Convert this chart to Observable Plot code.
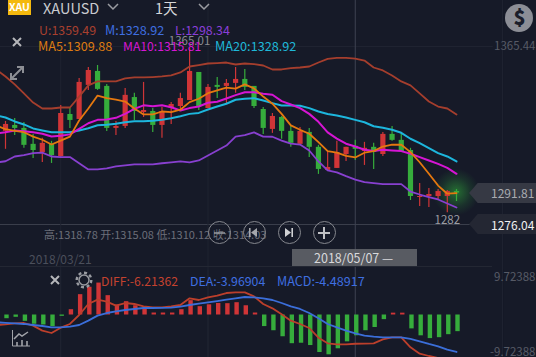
<!DOCTYPE html>
<html><head><meta charset="utf-8">
<script src="https://cdn.jsdelivr.net/npm/d3@7"></script>
<script src="https://cdn.jsdelivr.net/npm/@observablehq/plot@0.6"></script>
<style>
html,body{margin:0;padding:0;background:#161a28}
#app{position:relative;width:536px;height:357px;overflow:hidden;background:#161a28;font-family:"Noto Sans CJK SC","Noto Sans",sans-serif}
#app>svg.ic{position:absolute;left:0;top:0;pointer-events:none}
.t{position:absolute;white-space:nowrap;line-height:1;transform:translateY(-50%)}
.tag{position:absolute;left:469px;width:67px;height:20px;clip-path:polygon(0 50%,13% 0,100% 0,100% 100%,13% 100%)}
#glow{position:absolute;left:433px;top:169px;width:46px;height:46px;background:radial-gradient(circle,rgba(50,180,60,.55) 0,rgba(40,125,55,.24) 45%,rgba(30,80,50,0) 72%)}
</style></head><body><div id="app"><div id="glow"></div></div>
<script>
// Candles, session index 0..49 (red = up, green = down)
const opens=[1322.8,1325.8,1324.3,1316.3,1312.2,1316.3,1310.2,1331.3,1328.8,1345.9,1352.9,1345.4,1324.3,1325.3,1339.8,1332.3,1332.8,1325.8,1334.3,1335.3,1338.3,1352.4,1334.3,1345.9,1345.4,1346.9,1348.9,1345.4,1333.8,1323.8,1329.8,1322.8,1316.3,1322.3,1314.8,1303.2,1304.2,1311.2,1315.3,1312.7,1314.8,1311.2,1321.3,1318.3,1313.2,1289.6,1290.1,1290.1,1290.1,1292.6];
const highs=[1327.8,1329.3,1327.3,1321.3,1319.3,1317.8,1335.8,1334.3,1349.4,1354.9,1355.9,1346.4,1327.8,1344.4,1341.9,1347.4,1334.3,1334.8,1337.3,1341.9,1365.01,1352.4,1346.4,1349.9,1348.9,1354.9,1353.9,1345.4,1334.8,1331.8,1330.3,1325.8,1324.8,1324.3,1315.8,1312.7,1317.8,1314.8,1318.3,1317.3,1316.8,1322.3,1325.3,1321.8,1314.3,1296.6,1294.1,1293.6,1293.1,1293.6];
const lows=[1313.8,1320.8,1314.3,1309.2,1307.2,1306.7,1309.7,1324.3,1328.8,1343.4,1343.4,1322.8,1320.8,1324.3,1328.3,1329.8,1322.3,1319.3,1326.3,1333.3,1338.3,1333.3,1334.3,1339.3,1336.8,1341.9,1343.4,1334.3,1321.3,1321.8,1318.8,1314.8,1315.8,1309.7,1301.2,1303.2,1304.2,1307.7,1308.2,1305.7,1303.7,1310.2,1317.8,1312.7,1288.1,1285.1,1284.6,1288.1,1282,1287.6];
const closes=[1326.3,1324.3,1315.8,1313.2,1316.8,1310.7,1331.8,1328.3,1347.4,1353.4,1343.9,1324.3,1325.3,1340.9,1332.8,1333.3,1325.8,1332.8,1336.3,1339.3,1352.9,1335.3,1344.9,1344.9,1346.9,1348.9,1344.9,1335.3,1324.3,1330.3,1322.8,1316.8,1322.8,1314.8,1303.7,1304.7,1312.2,1314.8,1313.8,1314.3,1312.2,1321.3,1318.3,1312.7,1290.1,1290.1,1291.1,1292.6,1292.6,1291.81];

// Indicator lines, session index -1..49
const upper=[1353.9,1350.4,1346.4,1341.9,1337.3,1334.3,1334.3,1334.8,1334.8,1340.3,1345.9,1347.9,1347.9,1347.9,1349.4,1349.9,1349.9,1350.1,1350.4,1350.9,1352.4,1355.4,1356.1,1356.9,1357.1,1357.4,1356.4,1356.9,1356.6,1355.9,1353.9,1353.9,1354.6,1354.9,1355.4,1357.4,1359.2,1359.7,1359.7,1359.4,1358.4,1354.9,1353.4,1350.9,1347.9,1345.9,1341.9,1337.8,1335.3,1334.3,1331.3];
const lower=[1307.2,1307.8,1310.2,1310.9,1311.9,1312.1,1310.2,1309.9,1309.9,1306.8,1303.7,1303.7,1304.2,1305.2,1305.7,1306.2,1306.2,1306.2,1306.8,1307.2,1307.7,1307.2,1308.2,1310.7,1313.2,1315.7,1320.2,1320.9,1322.3,1320.2,1320.1,1318.2,1316.7,1316.2,1313.2,1307.7,1303.2,1302.2,1300.3,1298.6,1297.3,1296.8,1296.3,1296.3,1296.3,1292.6,1291.1,1289.8,1288.6,1286.6,1284.6];
const ma20=[1330.8,1329.8,1327.8,1326.3,1324.3,1323.3,1322.4,1322.4,1322.4,1323.3,1324.4,1325.9,1326.1,1326.6,1327.4,1327.9,1327.9,1328.1,1328.6,1329.4,1330.4,1331.6,1332.1,1333.8,1335.3,1336.7,1338.7,1339.2,1339.5,1338.3,1337.0,1335.8,1335.8,1335.7,1334.5,1332.8,1331.5,1330.8,1329.8,1328.6,1327.4,1325.4,1324.6,1323.6,1322.1,1319.1,1316.9,1314.4,1311.9,1310.2,1307.7];
const ma10=[1321.7,1322.4,1323.3,1322.9,1322.4,1321.6,1320.2,1320.6,1321.3,1324.1,1326.9,1328.6,1328.8,1329.6,1331.6,1334.1,1335.9,1335.4,1335.9,1334.9,1333.3,1334.5,1335.3,1337.2,1337.7,1339.3,1341.0,1342.5,1342.5,1341.7,1341.2,1338.0,1336.3,1334.5,1331.6,1327.6,1322.3,1319.2,1316.6,1315.2,1313.6,1312.9,1313.6,1313.2,1312.9,1311.6,1309.9,1308.2,1306.5,1304.5,1301.5];
const ma5=[1325.8,1323.9,1323.1,1322.4,1320.2,1318.6,1316.2,1318.2,1320.2,1328.3,1334.3,1340.8,1339.5,1338.8,1337.8,1334.3,1331.3,1331.3,1332.8,1332.5,1333.7,1337.5,1339.2,1342.0,1343.4,1344.8,1344.3,1346.4,1344.4,1340.3,1336.7,1331.6,1325.8,1323.6,1321.6,1317.4,1312.9,1312.1,1310.5,1309.7,1312.1,1312.9,1315.2,1316.2,1316.1,1312.4,1307.3,1301.5,1295.6,1291.5,1291.8];

// MACD panel
const macdBars=[-0.8,-0.5,-1.37,-2.0,-2.16,-2.52,-0.29,1.15,4.4,6.0,6.9,4.18,2.16,2.88,2.0,1.5,0.43,0.43,0.43,1.15,3.1,1.8,2.2,2.5,2.45,2.66,2.0,0.43,-2.5,-3.4,-4.7,-6.2,-6.1,-6.6,-8.1,-8.6,-7.3,-5.8,-4.48917,-3.4,-2.7,-1.0,0.4,0.4,-3.0,-4.5,-5.1,-4.9,-4.25,-3.6];
const diff=[-2.16,-2.02,-1.80,-1.73,-2.30,-3.38,-3.89,-2.74,-1.94,0,2.38,3.31,2.88,2.02,2.59,2.38,1.87,1.66,1.66,1.87,2.16,3.60,3.24,3.82,4.18,4.75,4.90,4.90,4.03,2.38,1.44,0.14,-1.22,-1.94,-2.81,-4.90,-6.12,-6.34,-6.34,-6.21362,-6.19,-6.12,-5.26,-4.82,-4.82,-6.98,-8.35,-8.86,-9.29,-9.86,-10.37];
const dea=[-1.58,-1.69,-1.80,-1.94,-2.16,-2.38,-2.66,-2.66,-2.52,-2.16,-1.22,-0.14,0.43,0.79,1.08,1.30,1.51,1.51,1.55,1.58,1.80,2.16,2.45,2.74,3.02,3.31,3.60,3.89,3.82,3.60,3.24,2.59,1.87,1.30,0.43,-0.72,-1.94,-2.66,-3.38,-3.96904,-4.46,-4.68,-4.82,-4.82,-4.82,-5.18,-5.69,-6.26,-6.77,-7.49,-7.99];

// Axis values and grid sessions
const priceTicks=[1365.44];
const macdTop=[9.72388], macdBottom=[-9.72388];
const gridSessions=[6,22,54];
const crossSession=[38];
const highLabel=[{i:20,v:1365.01,s:"1365.01"}];
const lowLabel=[{i:48,v:1282,s:"1282"}];
const lastPrice=[1276.04];

const RED="#d03537",GREEN="#36ad3c",GRID="#1f2331",CROSS="#3f4351";
const FONT='"Noto Sans CJK SC","Noto Sans",sans-serif';
const xScale={axis:null,domain:[0,49],range:[5,456]};
const base={width:536,height:357,marginTop:0,marginRight:0,marginBottom:0,marginLeft:0,
  style:{background:"transparent",position:"absolute",left:"0",top:"0",fontFamily:FONT,fontSize:"11.5px",overflow:"hidden"}};

const candles=d3.range(50).map(i=>({i,o:opens[i],h:highs[i],l:lows[i],c:closes[i],col:closes[i]>=opens[i]?RED:GREEN}));
const linePts=a=>a.map((v,k)=>({i:k-1,v}));
const line=(a,stroke,w=1.8)=>Plot.line(linePts(a),{x:"i",y:"v",stroke,strokeWidth:w});

const priceChart=Plot.plot({...base,
  x:xScale,
  y:{axis:null,domain:[1276.04,1365.44],range:[224,46]},
  marks:[
    Plot.ruleY(priceTicks,{stroke:GRID,x1:-1,x2:53}),
    Plot.ruleY(lastPrice,{stroke:"#3a3e4b",x1:-1,x2:51}),
    Plot.ruleX(gridSessions,{stroke:GRID}),
    Plot.ruleX(crossSession,{stroke:CROSS}),
    Plot.ruleX(candles,{x:"i",y1:"l",y2:"h",stroke:"col",strokeWidth:1.2}),
    Plot.ruleX(candles,{x:"i",y1:"o",y2:"c",stroke:"col",strokeWidth:5.2}),
    line(upper,"#a53e2d"),
    line(lower,"#8840d0"),
    line(ma20,"#1db6dd",2),
    line(ma10,"#d615d4",2),
    line(ma5,"#e5780f",1.8),
    Plot.text(highLabel,{x:"i",y:"v",text:"s",dy:-6,fill:"#8a8c92",fontSize:11.5}),
    Plot.text(lowLabel,{x:"i",y:"v",text:"s",dy:8,fill:"#9a9ca3",fontSize:11.5}),
    Plot.axisY(priceTicks,{anchor:"right",tickSize:0,tickPadding:0,textAnchor:"end",dx:-1,tickFormat:d=>d.toFixed(2),fill:"#565a66",fontSize:11.5,label:null})
  ]});
document.getElementById("app").append(priceChart);

const barData=macdBars.map((v,i)=>({i,v,col:v>=0?RED:GREEN}));
const macdChart=Plot.plot({...base,
  x:xScale,
  y:{axis:null,domain:[-9.72388,9.72388],range:[359.5,269.5]},
  marks:[
    Plot.ruleX(gridSessions,{stroke:GRID,y1:9.72388,y2:-9.72388}),
    Plot.ruleX(barData,{x:"i",y1:0,y2:"v",stroke:"col",strokeWidth:4.4,dx:1}),
    line(diff,"#bc3f2b"),
    line(dea,"#3b6ed9"),
    Plot.axisY(macdTop,{anchor:"right",tickSize:0,tickPadding:0,textAnchor:"end",dy:7.5,dx:-1,tickFormat:d=>d.toFixed(5),fill:"#565a66",fontSize:11.5,label:null}),
    Plot.axisY(macdBottom,{anchor:"right",tickSize:0,tickPadding:0,textAnchor:"end",dy:-7.5,dx:-1,tickFormat:d=>d.toFixed(5),fill:"#565a66",fontSize:11.5,label:null})
  ]});
document.getElementById("app").append(macdChart);

// Page chrome (title row, legends, buttons)
const app=document.getElementById("app");
function T(s,x,y,color,size,extra=""){const d=document.createElement("div");d.className="t";d.textContent=s;d.style.cssText=`left:${x}px;top:${y}px;color:${color};font-size:${size}px;${extra}`;app.append(d);return d;}
function box(css){const d=document.createElement("div");d.style.cssText="position:absolute;"+css;app.append(d);return d;}

box("left:8px;top:0;width:23px;height:15px;background:#f4b90e");
T("XAU",9,7,"#fff",10.5,"font-weight:700");
T("XAUUSD",43,7.5,"#c9cbcf",14.5);
T("1天",155,7.5,"#d5d6d9",14.5);
T("U:1359.49",39,29.5,"#a8402f",12.4);
T("M:1328.92",105,29.5,"#3f6fe0",12.6);
T("L:1298.34",175,29.5,"#8a3fd8",12.4);
T("MA5:1309.88",38,45.5,"#dd7a12",12.7);
T("MA10:1315.81",123,45.5,"#d616d4",12.2);
T("MA20:1328.92",215,45.5,"#1fb8d8",12.7);
T("高:1318.78 开:1315.08 低:1310.12 收:1314.03",44,234,"#6c6f7a",11);
T("2018/03/21",29,258.5,"#4b4f5b",12);
box("left:292px;top:249px;width:125px;height:18px;background:rgba(98,100,106,.88)");
T("2018/05/07 —",314,258,"#d8d9db",12.5);
box("left:0;top:266px;width:492px;height:1px;background:#232733");
T("DIFF:-6.21362",101,281,"#c4422f",12.2);
T("DEA:-3.96904",190,281,"#3f6fe0",12.3);
T("MACD:-4.48917",277,281,"#3f6fe0",12.6);

const tagA=document.createElement("div");tagA.className="tag";tagA.style.cssText="top:183px;background:#363944";app.append(tagA);
T("1291.81",491,193,"#a9abb1",12);
const tagB=document.createElement("div");tagB.className="tag";tagB.style.cssText="top:214px;background:#242733";app.append(tagB);
T("1276.04",491,224.5,"#f2f2f2",12);

[208,243,278,313].forEach(x=>box(`left:${x}px;top:221px;width:23px;height:23px;border:1.3px solid #85878e;border-radius:50%;box-sizing:border-box`));

const ns="http://www.w3.org/2000/svg";
const ic=document.createElementNS(ns,"svg");
ic.setAttribute("class","ic");ic.setAttribute("width",536);ic.setAttribute("height",357);
ic.innerHTML=`
<g fill="none" stroke-width="1.5">
 <path d="M108 4l5 5 5-5M199 4l5 5 5-5" stroke="#9a9ca2"/>
 <path d="M13 38l8 8M21 38l-8 8M51 276l8 8M59 276l-8 8" stroke="#b5b6ba" stroke-width="2"/>
 <path d="M11 79l12-12M17 67h6v6M11 73v6h6" stroke="#8d8f95" stroke-width="2"/>
 <circle cx="84" cy="280" r="5" stroke="#999ba1"/>
 <circle cx="84" cy="280" r="7.3" stroke="#999ba1" stroke-width="2.4" stroke-dasharray="3 2.7"/>
 <path d="M12.5 330v16h17.5" stroke="#a2a4aa" stroke-width="1"/>
 <path d="M14 339l5-5 3 2 6-4" stroke="#a2a4aa"/>
 <path d="M17 346v-4M22 346v-6M27 346v-5" stroke="#a2a4aa" stroke-width="1.6"/>
 <path d="M214 233h11" stroke="#9a9ca2"/>
 <path d="M318 233h12M324 227v12" stroke="#c0c1c5" stroke-width="2"/>
</g>
<circle cx="519" cy="18" r="14" fill="#8c8e96"/>
<path d="M249 228v9h1.6v-9zM251 232.500l6-4.500v9z" fill="#a5a7ac"/>
<path d="M293 228v9h-1.600v-9zM291 232.500l-6-4.500v9z" fill="#d0d1d4"/>`;
app.append(ic);
T("$",513.5,17,"#1b1e2b",20,"font-weight:900");
</script></body></html>
